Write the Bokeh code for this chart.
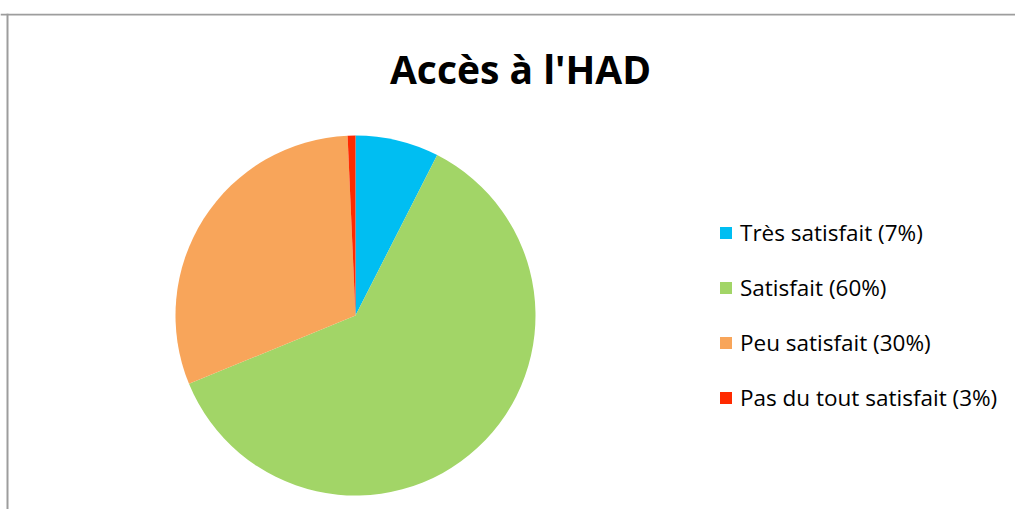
import numpy as np
from bokeh.plotting import figure
from bokeh.models import ColumnDataSource, Range1d, Span, Label
from bokeh.embed import file_html
from bokeh.resources import INLINE

# ---- data ----
categories = ["Très satisfait", "Satisfait", "Peu satisfait", "Pas du tout satisfait"]
legend_pct = ["7%", "60%", "30%", "3%"]          # percentages as printed in the legend
shares = [7.5, 61.3, 30.5, 0.7]                   # slice sizes as drawn
colors = ["#00BEF2", "#A2D567", "#F8A55A", "#FF2A00"]
title_text = "Accès à l'HAD"

# ---- angles (clockwise from 12 o'clock) ----
vals = np.array(shares, dtype=float)
frac = vals / vals.sum()
cum = np.concatenate([[0.0], np.cumsum(frac)])
start = np.pi / 2 - 2 * np.pi * cum[:-1]
end = np.pi / 2 - 2 * np.pi * cum[1:]

labels = [f"{c} ({p})" for c, p in zip(categories, legend_pct)]
src = ColumnDataSource(dict(start=start, end=end, color=colors, label=labels))

W, H = 1015, 509
TOP = 13
p = figure(width=W, height=H, output_backend="svg", toolbar_location=None,
           x_range=Range1d(0, W), y_range=Range1d(0, H - TOP),
           min_border_left=0, min_border_right=0, min_border_bottom=0, min_border_top=TOP)
p.axis.visible = False
p.grid.visible = False
p.outline_line_color = None
p.background_fill_color = "white"
p.border_fill_color = "white"

# chart border (top and left edges visible in the reference)
p.add_layout(Span(location=H - 14, dimension="width", line_color="#9d9d9d", line_width=2))
p.add_layout(Span(location=7, dimension="height", line_color="#9d9d9d", line_width=2))

p.wedge(x=355, y=H - 315, radius=180, start_angle="start", end_angle="end",
        direction="clock", fill_color="color", line_color=None, source=src,
        legend_field="label")

p.add_layout(Label(x=520, y=H - 68, text=title_text, text_align="center",
                   text_baseline="alphabetic", text_font="Open Sans",
                   text_font_style="bold", text_font_size="39px", text_color="black"))

leg = p.legend[0]
leg.location = (718, 96)
leg.border_line_color = None
leg.background_fill_alpha = 0
leg.padding = 0
leg.margin = 0
leg.glyph_width = 15
leg.glyph_height = 15
leg.label_height = 15
leg.label_standoff = 7
leg.spacing = 24
leg.label_text_font = "Open Sans"
leg.label_text_font_size = "22.5px"
leg.label_text_color = "black"

open("out.html", "w").write(file_html(p, INLINE))
